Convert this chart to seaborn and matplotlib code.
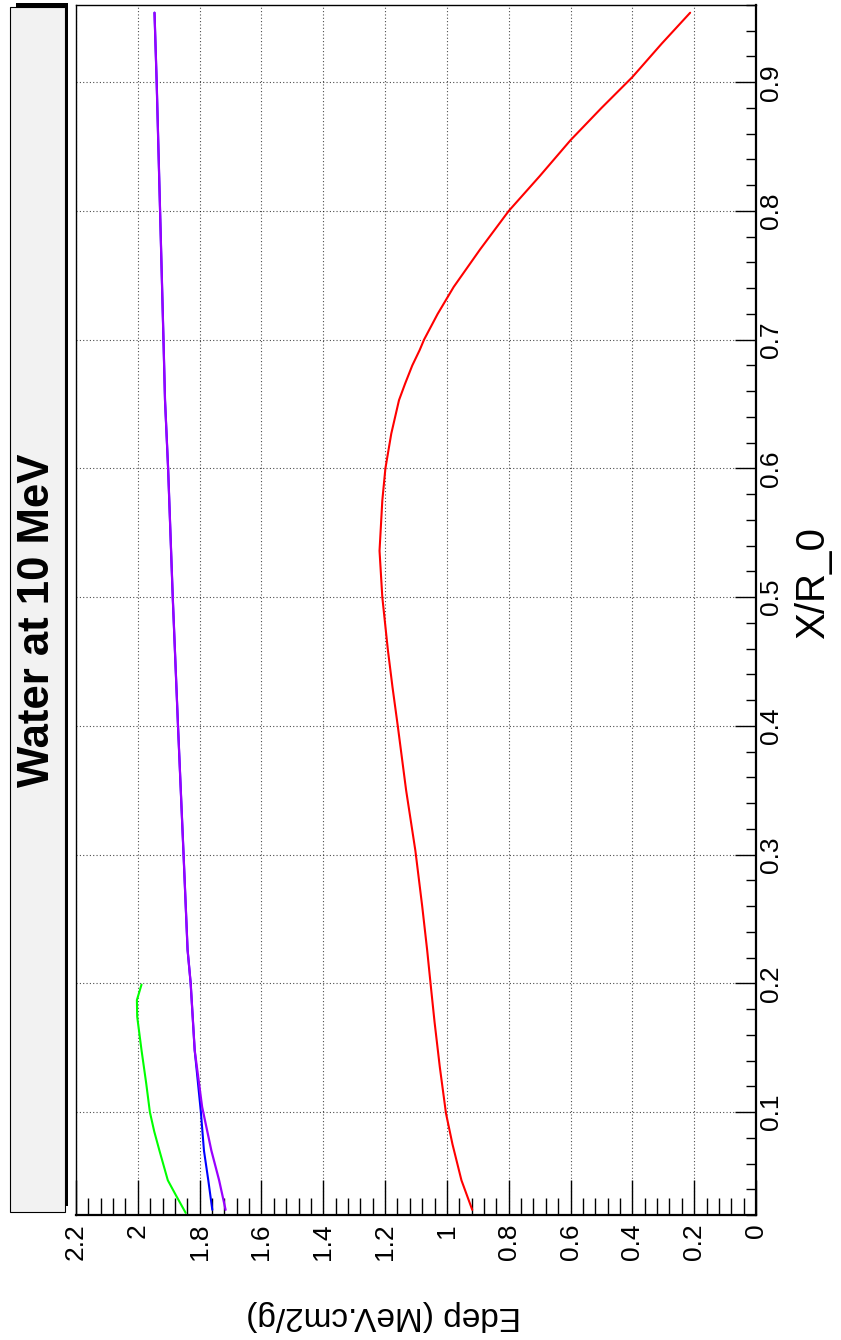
import matplotlib
matplotlib.use('Agg')
import matplotlib.pyplot as plt
import seaborn as sns
from matplotlib.patches import Rectangle
from matplotlib.ticker import MultipleLocator, FuncFormatter

red_x = [0.024, 0.047, 0.075, 0.099, 0.135, 0.17, 0.2, 0.226, 0.26, 0.303, 0.35, 0.4,
         0.43, 0.459, 0.5, 0.536, 0.575, 0.6, 0.627, 0.653, 0.666, 0.68, 0.692, 0.7,
         0.72, 0.741, 0.77, 0.8, 0.827, 0.855, 0.88, 0.904, 0.93, 0.954]
red_e = [0.918, 0.953, 0.982, 1.003, 1.023, 1.040, 1.053, 1.064, 1.080, 1.102, 1.132, 1.159,
         1.176, 1.191, 1.209, 1.218, 1.209, 1.199, 1.180, 1.155, 1.135, 1.112, 1.088, 1.074,
         1.030, 0.978, 0.893, 0.800, 0.700, 0.600, 0.500, 0.400, 0.305, 0.213]

blue_x = [0.024, 0.047, 0.070, 0.1, 0.148, 0.2, 0.226, 0.3, 0.4, 0.5, 0.6, 0.653,
          0.7, 0.8, 0.9, 0.954]
blue_e = [1.759, 1.772, 1.786, 1.796, 1.816, 1.829, 1.839, 1.852, 1.870, 1.887, 1.902,
          1.912, 1.917, 1.928, 1.939, 1.946]

violet_x = [0.024, 0.047, 0.070, 0.104, 0.148, 0.2, 0.226, 0.3, 0.4, 0.5, 0.6, 0.653,
            0.7, 0.8, 0.9, 0.954]
violet_e = [1.716, 1.737, 1.762, 1.792, 1.816, 1.829, 1.839, 1.852, 1.870, 1.887, 1.902,
            1.912, 1.917, 1.928, 1.939, 1.946]

green_x = [0.0216, 0.035, 0.047, 0.070, 0.085, 0.1, 0.1225, 0.148, 0.174, 0.187, 0.199]
green_e = [1.845, 1.876, 1.903, 1.930, 1.947, 1.961, 1.973, 1.988, 2.002, 2.003, 1.988]

title = 'Water at 10 MeV'
xtitle = 'X/R_0'
ytitle = 'Edep (MeV.cm2/g)'

W, H = 841, 1340

def fx(px):
    return px / W

def fy(py):
    return (H - py) / H

sns.set_style('white')
plt.rcParams['font.family'] = ['Liberation Sans', 'DejaVu Sans']
plt.rcParams['text.color'] = 'black'
plt.rcParams['xtick.color'] = 'black'
plt.rcParams['ytick.color'] = 'black'
plt.rcParams['xtick.labelcolor'] = 'black'
plt.rcParams['ytick.labelcolor'] = 'black'

fig = plt.figure(figsize=(W / 100, H / 100), dpi=100)

# title box with its shadow (picture is turned a quarter turn)
fig.patches.append(Rectangle((fx(16), fy(1206)), fx(68.3) - fx(16), fy(3.3) - fy(1206),
                             transform=fig.transFigure, facecolor='black', edgecolor='none'))
fig.patches.append(Rectangle((fx(10), fy(1212)), fx(65) - fx(10), fy(6.7) - fy(1212),
                             transform=fig.transFigure, facecolor='#f2f2f2',
                             edgecolor='black', linewidth=0.8))
fig.text(fx(38), fy(620), title, rotation=90, ha='center', va='center',
         fontsize=31.5, fontweight='bold', color='black')

ax = fig.add_axes([fx(76), fy(1215), fx(756) - fx(76), fy(5) - fy(1215)])

sns.lineplot(x=red_e, y=red_x, sort=False, estimator=None, color='#ff0000', lw=1.5, ax=ax, zorder=3)
sns.lineplot(x=green_e, y=green_x, sort=False, estimator=None, color='#00ff00', lw=1.5, ax=ax, zorder=3)
sns.lineplot(x=blue_e, y=blue_x, sort=False, estimator=None, color='#0000ff', lw=1.5, ax=ax, zorder=3)
sns.lineplot(x=violet_e, y=violet_x, sort=False, estimator=None, color='#9900ff', lw=1.6, ax=ax, zorder=4)

ax.set_xlim(2.2, 0)
ax.set_ylim(0.02, 0.96)
ax.set_xlabel('')
ax.set_ylabel('')

fmt = FuncFormatter(lambda v, p: f'{v:g}')
ax.xaxis.set_major_locator(MultipleLocator(0.2))
ax.xaxis.set_minor_locator(MultipleLocator(0.04))
ax.yaxis.set_major_locator(MultipleLocator(0.1))
ax.yaxis.set_minor_locator(MultipleLocator(0.02))
ax.xaxis.set_major_formatter(fmt)
ax.yaxis.set_major_formatter(fmt)
ax.yaxis.tick_right()

ax.tick_params(axis='x', which='major', direction='in', length=25, width=1, pad=5.8,
               labelsize=19, labelrotation=90, top=False, bottom=True, colors='black')
ax.tick_params(axis='x', which='minor', direction='in', length=12.5, width=1, top=False, bottom=True)
ax.tick_params(axis='y', which='major', direction='in', length=15, width=1, pad=2.5,
               labelsize=19, left=False, right=True, colors='black')
ax.tick_params(axis='y', which='minor', direction='in', length=7.5, width=1, left=False, right=True)
plt.setp(ax.get_yticklabels(), rotation=90, va='center', ha='left')

ax.grid(True, which='major', color='black', linestyle=(0, (1, 2)), linewidth=0.8, alpha=0.7)

for side in ['left', 'top', 'right', 'bottom']:
    ax.spines[side].set_visible(True)
    ax.spines[side].set_color('black')
ax.spines['left'].set_linewidth(1.0)
ax.spines['top'].set_linewidth(1.0)
ax.spines['right'].set_linewidth(1.6)
ax.spines['bottom'].set_linewidth(1.6)

fig.text(fx(812.7), fy(583), xtitle, rotation=90, ha='center', va='center', fontsize=29, color='black')
fig.text(fx(384), fy(1316), ytitle, rotation=180, ha='center', va='center', fontsize=24, color='black')

fig.savefig('out.png', dpi=100)
